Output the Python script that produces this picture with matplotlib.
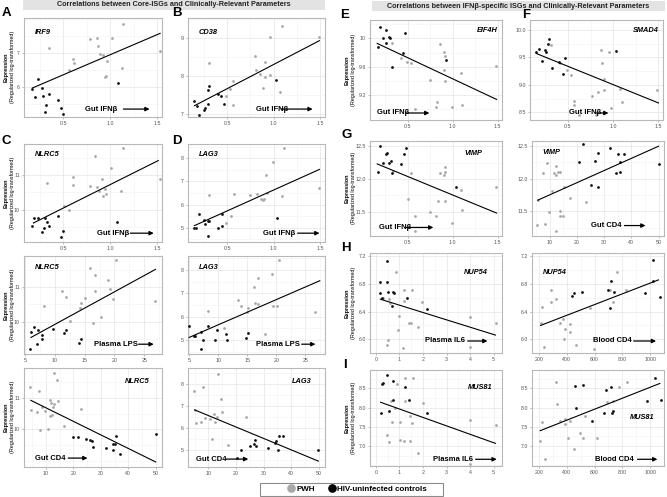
import matplotlib
matplotlib.use("Agg")
import numpy as np
import matplotlib.pyplot as plt
from matplotlib.lines import Line2D
from matplotlib.patches import Rectangle
from matplotlib.ticker import AutoMinorLocator

plt.rcParams['font.family'] = ['Liberation Sans', 'DejaVu Sans']

# ---------------- data ----------------
# A: IRF9 vs Gut IFNb
irf9_ifn_xg = [1.13, 1.53, 0.78, 0.86, 0.87, 0.89, 0.92, 0.96, 1.02, 0.35, 0.60, 0.61, 0.56, 0.94, 0.95, 1.12]
irf9_ifn_yg = [7.83, 7.05, 7.40, 7.42, 7.20, 6.98, 6.93, 6.77, 7.42, 7.13, 6.83, 6.69, 6.49, 6.29, 6.31, 6.56]
irf9_ifn_xb = [0.17, 0.20, 0.23, 0.27, 0.28, 0.31, 0.30, 0.35, 0.44, 0.47, 0.50, 1.08]
irf9_ifn_yb = [5.95, 5.71, 6.23, 5.97, 5.73, 5.46, 5.28, 5.78, 5.61, 5.38, 5.22, 6.12]
irf9_ifn_fit = ([0.17, 1.53], [5.97, 7.57])

# B: CD38 vs Gut IFNb
cd38_ifn_xg = [1.09, 1.49, 0.96, 0.80, 0.81, 0.85, 0.91, 0.96, 0.91, 0.89, 1.07, 0.31, 0.56, 0.53, 0.49, 0.56]
cd38_ifn_yg = [9.33, 9.04, 9.02, 8.52, 8.15, 8.06, 7.97, 8.03, 8.37, 7.68, 7.56, 8.34, 7.86, 7.65, 7.46, 7.23]
cd38_ifn_xb = [0.14, 0.18, 0.20, 0.25, 0.26, 0.29, 0.29, 0.31, 0.40, 0.43, 0.47, 1.02]
cd38_ifn_yb = [7.33, 7.21, 6.97, 7.09, 7.14, 7.25, 7.63, 7.74, 7.51, 7.46, 7.25, 7.88]
cd38_ifn_fit = ([0.15, 1.49], [7.21, 8.93])

# C: NLRC5 vs Gut IFNb
nlrc5_ifn_xg = [1.13, 0.84, 1.01, 0.33, 0.60, 0.60, 0.78, 0.86, 0.91, 0.88, 0.94, 0.92, 0.95, 1.11, 0.51, 0.56, 1.53]
nlrc5_ifn_yg = [11.78, 11.55, 11.21, 10.78, 10.93, 10.70, 10.68, 10.66, 10.88, 10.54, 10.59, 10.39, 10.45, 10.54, 10.10, 10.00, 10.89]
nlrc5_ifn_xb = [0.17, 0.19, 0.23, 0.30, 0.32, 0.29, 0.27, 0.35, 0.44, 0.50, 0.47, 1.07]
nlrc5_ifn_yb = [9.51, 9.75, 9.77, 9.75, 9.64, 9.46, 9.34, 9.51, 9.82, 9.37, 9.20, 9.63]
nlrc5_ifn_fit = ([0.18, 1.51], [9.61, 11.42])

# D: LAG3 vs Gut IFNb
lag3_ifn_xg = [1.11, 0.99, 0.92, 0.31, 0.57, 0.75, 0.93, 0.82, 0.86, 0.88, 0.90, 1.09, 1.49, 0.54, 0.49]
lag3_ifn_yg = [8.46, 7.86, 7.30, 6.41, 6.46, 6.41, 6.48, 6.46, 6.25, 6.18, 6.22, 6.38, 6.72, 5.51, 5.20]
lag3_ifn_xb = [0.14, 0.17, 0.20, 0.25, 0.26, 0.29, 0.31, 0.29, 0.40, 0.44, 0.45, 1.04]
lag3_ifn_yb = [4.99, 4.99, 5.61, 5.35, 5.17, 5.29, 5.29, 4.62, 5.00, 5.61, 5.06, 5.42]
lag3_ifn_fit = ([0.15, 1.49], [5.09, 7.52])

# NLRC5 vs Plasma LPS
nlrc5_lps_xg = [20.2, 15.85, 16.7, 11.2, 11.8, 16.8, 19.0, 19.2, 19.8, 15.0, 14.4, 14.2, 12.5, 16.4, 17.8, 26.9, 8.2]
nlrc5_lps_yg = [11.80, 11.55, 11.36, 10.90, 10.71, 10.90, 11.21, 10.94, 10.66, 10.68, 10.55, 10.39, 10.03, 9.97, 10.13, 10.60, 10.46]
nlrc5_lps_xb = [5.85, 5.96, 6.41, 7.2, 9.6, 7.9, 7.8, 7.0, 11.8, 11.6, 14.4, 14.0]
nlrc5_lps_yb = [9.20, 9.71, 9.84, 9.76, 9.78, 9.51, 9.60, 9.36, 9.76, 9.66, 9.51, 9.39]
nlrc5_lps_fit = ([5.96, 26.9], [9.54, 11.52])

# LAG3 vs Plasma LPS
lag3_lps_xg = [20.4, 19.3, 16.8, 16.1, 13.4, 13.9, 14.9, 15.2, 16.4, 16.9, 19.5, 20.1, 26.7, 8.2, 11.0, 18.1]
lag3_lps_yg = [8.43, 7.83, 7.66, 7.29, 6.73, 6.44, 6.19, 6.39, 6.60, 6.53, 6.47, 6.47, 6.20, 6.24, 5.53, 5.24]
lag3_lps_xb = [5.0, 5.75, 6.0, 7.0, 7.4, 7.1, 8.3, 9.5, 9.8, 11.4, 11.6, 14.8, 15.1]
lag3_lps_yb = [5.61, 5.17, 5.19, 5.36, 5.00, 4.63, 5.60, 5.00, 5.43, 5.26, 5.00, 5.09, 5.31]
lag3_lps_fit = ([5.0, 27.5], [5.11, 7.54])

# NLRC5 vs Gut CD4
nlrc5_cd4_xg = [12.8, 4.2, 13.9, 7.5, 4.7, 6.7, 8.5, 11.6, 11.8, 13.1, 12.7, 14.5, 9.75, 11.5, 12.1, 7.9, 10.6, 16.7, 22.9]
nlrc5_cd4_yg = [11.78, 11.35, 11.56, 11.22, 10.60, 10.55, 10.70, 10.92, 10.84, 10.81, 10.70, 10.91, 10.57, 10.43, 10.46, 9.98, 10.01, 10.12, 10.66]
nlrc5_cd4_xb = [19.8, 21.7, 24.7, 26.2, 26.8, 27.2, 31.8, 34.3, 34.5, 35.3, 35.5, 37.0, 50.0]
nlrc5_cd4_yb = [9.74, 9.76, 9.69, 9.66, 9.63, 9.44, 9.39, 9.53, 9.35, 9.53, 9.78, 9.20, 9.85]
nlrc5_cd4_fit = ([4.5, 50.0], [10.92, 8.96])

# LAG3 vs Gut CD4
lag3_cd4_xg = [13.6, 4.8, 8.2, 14.5, 15.1, 5.2, 5.5, 7.4, 8.8, 10.4, 12.1, 12.5, 13.1, 11.3, 17.1, 23.5]
lag3_cd4_yg = [8.45, 7.67, 7.85, 7.32, 6.71, 6.82, 6.21, 6.26, 6.44, 6.41, 6.64, 6.26, 6.48, 5.50, 5.23, 6.48]
lag3_cd4_xb = [21.7, 20.2, 25.0, 26.4, 26.9, 27.4, 31.8, 34.2, 34.5, 35.6, 37.1, 35.4, 49.8]
lag3_cd4_yb = [4.97, 4.59, 5.15, 5.24, 5.42, 5.15, 5.08, 5.30, 5.38, 5.61, 5.61, 5.00, 5.00]
lag3_cd4_fit = ([5.0, 49.9], [6.82, 4.47])

# E: EIF4H vs Gut IFNb
eif4h_ifn_xg = [0.32, 0.42, 0.49, 0.54, 0.86, 0.90, 0.92, 0.90, 0.91, 0.75, 1.09, 1.48, 0.83, 0.82, 0.99, 1.10, 0.58]
eif4h_ifn_yg = [9.94, 9.73, 9.67, 9.65, 9.92, 9.81, 9.75, 9.56, 9.40, 9.42, 9.51, 9.61, 9.11, 9.03, 9.04, 9.06, 9.01]
eif4h_ifn_xb = [0.17, 0.19, 0.22, 0.26, 0.26, 0.29, 0.30, 0.47, 0.45, 0.33, 0.93]
eif4h_ifn_yb = [9.88, 10.16, 10.00, 9.94, 10.12, 10.02, 10.01, 10.08, 9.80, 9.60, 9.69]
eif4h_ifn_fit = ([0.16, 1.49], [9.93, 9.14])

# F: SMAD4 vs Gut IFNb
smad4_ifn_xg = [0.31, 0.41, 0.49, 0.53, 0.57, 0.57, 0.62, 0.76, 0.81, 0.83, 0.88, 0.87, 0.95, 0.90, 0.90, 0.97, 1.08, 1.10, 1.48]
smad4_ifn_yg = [9.72, 9.40, 9.27, 9.17, 8.70, 8.64, 8.46, 8.80, 8.45, 8.87, 9.39, 9.63, 9.59, 9.10, 8.90, 8.57, 8.93, 8.69, 8.90]
smad4_ifn_xb = [0.15, 0.18, 0.21, 0.25, 0.26, 0.28, 0.29, 0.32, 0.40, 0.44, 0.47, 1.03]
smad4_ifn_yb = [9.59, 9.65, 9.43, 9.64, 9.60, 9.75, 9.83, 9.31, 9.41, 9.20, 9.49, 9.61]
smad4_ifn_fit = ([0.15, 1.50], [9.57, 8.67])

# G: VIMP vs Gut IFNb
vimp_ifn_xg = [0.34, 0.54, 0.50, 0.58, 0.58, 0.75, 0.82, 0.84, 0.86, 0.90, 0.91, 0.92, 0.92, 0.99, 1.09, 1.10, 1.48]
vimp_ifn_yg = [12.12, 12.09, 11.70, 11.43, 11.20, 11.50, 11.43, 11.66, 12.09, 12.06, 12.18, 12.10, 11.67, 11.33, 11.83, 11.52, 11.88]
vimp_ifn_xb = [0.17, 0.19, 0.22, 0.26, 0.27, 0.29, 0.31, 0.33, 0.43, 0.46, 0.48, 1.04]
vimp_ifn_yb = [12.11, 12.51, 12.24, 12.38, 12.39, 12.25, 12.27, 12.09, 12.23, 12.38, 12.48, 11.88]
vimp_ifn_fit = ([0.16, 1.49], [12.23, 11.48])

# G: VIMP vs Gut CD4
vimp_cd4_xg = [5.35, 5.6, 7.55, 8.4, 9.0, 9.6, 10.9, 11.5, 12.45, 12.45, 12.45, 13.1, 13.9, 13.7, 13.7, 14.9, 15.1, 17.3, 23.5]
vimp_cd4_yg = [11.29, 11.67, 12.09, 11.31, 12.24, 11.49, 11.81, 12.09, 12.19, 12.06, 11.19, 12.11, 12.11, 11.51, 11.43, 11.43, 11.88, 11.70, 11.65]
vimp_cd4_xb = [22.2, 20.6, 25.2, 26.8, 27.6, 27.6, 32.3, 35.0, 35.9, 34.5, 35.7, 37.4, 50.0]
vimp_cd4_yb = [12.53, 12.26, 11.91, 12.28, 12.39, 11.88, 12.48, 12.38, 12.25, 12.09, 12.10, 12.38, 12.23]
vimp_cd4_fit = ([5.6, 50.0], [11.67, 12.50])

# H: NUP54 vs Plasma IL6
nup54_il6_xg = [0.32, 0.45, 0.53, 0.56, 0.58, 0.86, 0.98, 0.95, 1.15, 1.18, 1.19, 1.42, 1.49, 1.55, 1.78, 1.95, 4.0, 4.0, 5.1]
nup54_il6_yg = [6.60, 5.92, 5.99, 6.58, 6.53, 6.97, 6.34, 6.13, 5.87, 6.56, 6.71, 6.23, 6.23, 6.71, 6.17, 6.54, 6.32, 5.88, 6.24]
nup54_il6_xb = [0.16, 0.19, 0.27, 0.45, 0.46, 0.51, 0.69, 0.72, 0.78, 1.33, 2.15]
nup54_il6_yb = [6.83, 6.67, 6.60, 7.14, 6.83, 6.69, 6.48, 6.68, 6.67, 6.60, 6.44]
nup54_il6_fit = ([0.19, 5.07], [6.58, 6.06])

# H: NUP54 vs Blood CD4
nup54_bcd4_xg = [212, 224, 236, 290, 290, 321, 350, 370, 377, 387, 423, 423, 467, 564, 595, 714, 733, 762, 830]
nup54_bcd4_yg = [6.24, 6.46, 5.88, 6.71, 6.54, 6.58, 6.24, 6.29, 6.00, 6.15, 6.11, 6.22, 5.92, 6.45, 5.86, 6.72, 6.54, 6.98, 6.72]
nup54_bcd4_xb = [1024, 1024, 1068, 964, 720, 696, 739, 713, 510, 438, 455]
nup54_bcd4_yb = [7.15, 6.84, 6.61, 6.67, 6.84, 6.71, 6.69, 6.45, 6.68, 6.62, 6.67]
nup54_bcd4_fit = ([212, 1060], [6.20, 6.86])

# I: MUS81 vs Plasma IL6
mus81_il6_xg = [0.46, 0.54, 0.63, 0.67, 0.83, 0.90, 1.03, 1.01, 1.20, 1.23, 1.23, 1.43, 1.46, 1.53, 1.56, 1.80, 1.98, 4.0, 3.98, 5.09]
mus81_il6_yg = [7.29, 7.11, 8.18, 7.63, 8.00, 8.61, 7.63, 7.16, 7.14, 8.76, 8.18, 7.78, 7.13, 7.59, 8.76, 6.83, 8.11, 7.69, 6.53, 7.56]
mus81_il6_xb = [0.20, 0.24, 0.30, 0.48, 0.54, 0.74, 0.73, 1.23, 1.39, 2.18]
mus81_il6_yb = [7.85, 8.61, 8.63, 8.85, 7.92, 8.69, 8.20, 8.54, 8.21, 7.85]
mus81_il6_fit = ([0.20, 5.07], [8.14, 7.07])

# I: MUS81 vs Blood CD4
mus81_bcd4_xg = [205, 223, 240, 326, 329, 350, 387, 387, 411, 427, 450, 497, 520, 528, 621, 691, 736, 778, 832]
mus81_bcd4_yg = [7.14, 7.62, 6.67, 8.68, 8.09, 7.65, 7.71, 7.58, 7.20, 7.66, 6.92, 7.34, 7.22, 7.79, 7.21, 8.15, 8.17, 8.55, 8.68]
mus81_bcd4_xb = [457, 520, 469, 584, 668, 685, 715, 724, 731, 977, 1035, 1075]
mus81_bcd4_yb = [8.56, 8.60, 7.99, 7.64, 7.85, 8.47, 8.55, 7.85, 7.92, 8.17, 8.76, 8.21]
mus81_bcd4_fit = ([209, 1070], [7.40, 8.63])

# axis ticks
ifn_ticks = [0.5, 1.0, 1.5]
lps_ticks = [5, 10, 15, 20, 25]
gcd4_ticks = [10, 20, 30, 40, 50]
il6_ticks = [0, 1, 2, 3, 4, 5]
bcd4_ticks = [200, 400, 600, 800, 1000]

GREY = '#a8a8a8'
BLACK = '#111111'
W, H = 667, 497

fig = plt.figure(figsize=(W / 100, H / 100), dpi=100)


def box(x0, y0, x1, y1):
    return [x0 / W, 1 - y1 / H, (x1 - x0) / W, (y1 - y0) / H]


def panel(px, xg, yg, xb, yb, fit, xlim, ylim, xt, yt, ytl, gene, gpos, xlab, lpos, arr):
    ax = fig.add_axes(box(*px))
    ax.scatter(xg, yg, s=4, color=GREY, lw=0, zorder=3)
    ax.scatter(xb, yb, s=4, color=BLACK, lw=0, zorder=3)
    ax.plot(fit[0], fit[1], color='black', lw=0.8, zorder=4)
    ax.set_xlim(*xlim)
    ax.set_ylim(*ylim)
    ax.set_xticks(xt)
    ax.set_xticklabels([('%.1f' % v) if isinstance(v, float) else str(v) for v in xt])
    ax.set_yticks(yt)
    ax.set_yticklabels(ytl)
    ax.xaxis.set_minor_locator(AutoMinorLocator(2))
    ax.yaxis.set_minor_locator(AutoMinorLocator(2))
    ax.grid(True, which='major', color='#e4e4e4', lw=0.5, zorder=0)
    ax.grid(True, which='minor', color='#f2f2f2', lw=0.4, zorder=0)
    ax.tick_params(which='major', length=1.5, width=0.4, color='#888888', labelsize=3.8,
                   labelcolor='#555555', pad=1.5)
    ax.tick_params(which='minor', length=0)
    for s in ax.spines.values():
        s.set_color('#b8b8b8')
        s.set_linewidth(0.8)
    ha = 'left' if gpos[2] == 'l' else 'right'
    ax.text(gpos[0], gpos[1], gene, transform=ax.transAxes, ha=ha, va='center',
            fontsize=5.3, fontweight='bold', style='italic')
    ax.text(lpos[0], lpos[1], xlab, transform=ax.transAxes, ha='left', va='center',
            fontsize=5.5, fontweight='bold')
    ax.annotate('', xy=(arr[1], lpos[1]), xytext=(arr[0], lpos[1]), xycoords='axes fraction',
                arrowprops=dict(arrowstyle='-|>', color='black', lw=0.9, mutation_scale=6,
                                shrinkA=0, shrinkB=0))
    return ax


ifn_xlim = (0.08, 1.55)

# left block
panel((24, 18, 162, 117), irf9_ifn_xg, irf9_ifn_yg, irf9_ifn_xb, irf9_ifn_yb, irf9_ifn_fit,
      ifn_xlim, (5.12, 8.02), ifn_ticks, [6, 7], ['6', '7'], 'IRF9', (0.08, 0.85, 'l'),
      'Gut IFNβ', (0.44, 0.08), (0.72, 0.91))
panel((188, 18, 325, 117), cd38_ifn_xg, cd38_ifn_yg, cd38_ifn_xb, cd38_ifn_yb, cd38_ifn_fit,
      ifn_xlim, (6.91, 9.53), ifn_ticks, [7, 8, 9], ['7', '8', '9'], 'CD38', (0.08, 0.85, 'l'),
      'Gut IFNβ', (0.50, 0.08), (0.68, 0.91))
panel((24, 144, 162, 242), nlrc5_ifn_xg, nlrc5_ifn_yg, nlrc5_ifn_xb, nlrc5_ifn_yb, nlrc5_ifn_fit,
      ifn_xlim, (9.06, 11.9), ifn_ticks, [10, 11], ['10', '11'], 'NLRC5', (0.08, 0.89, 'l'),
      'Gut IFNβ', (0.53, 0.09), (0.77, 0.94))
panel((188, 144, 325, 242), lag3_ifn_xg, lag3_ifn_yg, lag3_ifn_xb, lag3_ifn_yb, lag3_ifn_fit,
      ifn_xlim, (4.38, 8.62), ifn_ticks, [5, 6, 7, 8], ['5', '6', '7', '8'], 'LAG3', (0.08, 0.89, 'l'),
      'Gut IFNβ', (0.55, 0.09), (0.80, 0.96))
panel((24, 256, 162, 354), nlrc5_lps_xg, nlrc5_lps_yg, nlrc5_lps_xb, nlrc5_lps_yb, nlrc5_lps_fit,
      (4.8, 28.0), (9.06, 11.91), lps_ticks, [10, 11], ['10', '11'], 'NLRC5', (0.08, 0.88, 'l'),
      'Plasma LPS', (0.51, 0.10), (0.83, 0.94))
panel((188, 256, 325, 354), lag3_lps_xg, lag3_lps_yg, lag3_lps_xb, lag3_lps_yb, lag3_lps_fit,
      (4.8, 28.4), (4.4, 8.6), lps_ticks, [5, 6, 7, 8], ['5', '6', '7', '8'], 'LAG3', (0.08, 0.88, 'l'),
      'Plasma LPS', (0.50, 0.10), (0.83, 0.93))
panel((24, 368, 162, 467), nlrc5_cd4_xg, nlrc5_cd4_yg, nlrc5_cd4_xb, nlrc5_cd4_yb, nlrc5_cd4_fit,
      (2.0, 52.3), (8.8, 11.95), gcd4_ticks, [10, 11], ['10', '11'], 'NLRC5', (0.91, 0.86, 'r'),
      'Gut CD4', (0.08, 0.09), (0.32, 0.46))
panel((188, 368, 325, 467), lag3_cd4_xg, lag3_cd4_yg, lag3_cd4_xb, lag3_cd4_yb, lag3_cd4_fit,
      (2.6, 52.3), (4.2, 8.74), gcd4_ticks, [5, 6, 7, 8], ['5', '6', '7', '8'], 'LAG3', (0.90, 0.86, 'r'),
      'Gut CD4', (0.06, 0.08), (0.28, 0.44))

# right block
panel((370, 20, 502, 120), eif4h_ifn_xg, eif4h_ifn_yg, eif4h_ifn_xb, eif4h_ifn_yb, eif4h_ifn_fit,
      ifn_xlim, (8.85, 10.26), ifn_ticks, [9.2, 9.6, 10.0], ['9.2', '9.6', '10'], 'EIF4H', (0.97, 0.90, 'r'),
      'Gut IFNβ', (0.05, 0.07), (0.27, 0.45))
panel((530, 20, 663, 120), smad4_ifn_xg, smad4_ifn_yg, smad4_ifn_xb, smad4_ifn_yb, smad4_ifn_fit,
      ifn_xlim, (8.36, 10.18), ifn_ticks, [8.5, 9.0, 9.5, 10.0], ['8.5', '9.0', '9.5', '10.0'], 'SMAD4',
      (0.97, 0.90, 'r'), 'Gut IFNβ', (0.29, 0.07), (0.50, 0.59))
panel((370, 141, 502, 236), vimp_ifn_xg, vimp_ifn_yg, vimp_ifn_xb, vimp_ifn_yb, vimp_ifn_fit,
      ifn_xlim, (11.13, 12.58), ifn_ticks, [11.5, 12.0, 12.5], ['11.5', '12.0', '12.5'], 'VIMP',
      (0.85, 0.87, 'r'), 'Gut IFNβ', (0.07, 0.09), (0.27, 0.48))
panel((532, 141, 664, 236), vimp_cd4_xg, vimp_cd4_yg, vimp_cd4_xb, vimp_cd4_yb, vimp_cd4_fit,
      (3.5, 52.0), (11.12, 12.58), gcd4_ticks, [11.5, 12.0, 12.5], ['11.5', '12.0', '12.5'], 'VIMP',
      (0.08, 0.88, 'l'), 'Gut CD4', (0.45, 0.11), (0.70, 0.86))
panel((370, 253, 502, 353), nup54_il6_xg, nup54_il6_yg, nup54_il6_xb, nup54_il6_yb, nup54_il6_fit,
      (-0.25, 5.35), (5.8, 7.25), il6_ticks, [6.0, 6.4, 6.8, 7.2], ['6.0', '6.4', '6.8', '7.2'], 'NUP54',
      (0.89, 0.80, 'r'), 'Plasma IL6', (0.42, 0.12), (0.74, 0.89))
panel((532, 253, 664, 353), nup54_bcd4_xg, nup54_bcd4_yg, nup54_bcd4_xb, nup54_bcd4_yb, nup54_bcd4_fit,
      (150, 1100), (5.8, 7.25), bcd4_ticks, [6.0, 6.4, 6.8, 7.2], ['6.0', '6.4', '6.8', '7.2'], 'NUP54',
      (0.08, 0.80, 'l'), 'Blood CD4', (0.46, 0.12), (0.77, 0.94))
panel((370, 370, 502, 466), mus81_il6_xg, mus81_il6_yg, mus81_il6_xb, mus81_il6_yb, mus81_il6_fit,
      (-0.25, 5.35), (6.48, 8.98), il6_ticks, [7.0, 7.5, 8.0, 8.5], ['7.0', '7.5', '8.0', '8.5'], 'MUS81',
      (0.93, 0.82, 'r'), 'Plasma IL6', (0.48, 0.07), (0.80, 0.96))
panel((532, 370, 664, 466), mus81_bcd4_xg, mus81_bcd4_yg, mus81_bcd4_xb, mus81_bcd4_yb, mus81_bcd4_fit,
      (150, 1100), (6.48, 8.98), bcd4_ticks, [7.0, 7.5, 8.0, 8.5], ['7.0', '7.5', '8.0', '8.5'], 'MUS81',
      (0.93, 0.51, 'r'), 'Blood CD4', (0.48, 0.07), (0.80, 0.95))

# headers
for (x0, x1, y0, y1, txt) in [(23, 325, 0, 10, 'Correlations between Core-ISGs and Clinically-Relevant Parameters'),
                               (372, 665, 1, 11, 'Correlations between IFNβ-specific ISGs and Clinically-Relevant Parameters')]:
    fig.patches.append(Rectangle((x0 / W, 1 - y1 / H), (x1 - x0) / W, (y1 - y0) / H,
                                 transform=fig.transFigure, facecolor='#e3e3e3', edgecolor='none'))
    fig.text((x0 + x1) / 2 / W, 1 - (y0 + y1) / 2 / H, txt, ha='center', va='center',
             fontsize=5.2, fontweight='bold', color='#222222')

# panel letters
for (x, y, t) in [(2, 13, 'A'), (172, 13, 'B'), (2, 141, 'C'), (172, 141, 'D'),
                  (340, 15, 'E'), (522, 15, 'F'), (341, 135, 'G'), (341, 248, 'H'), (343, 365, 'I')]:
    fig.text(x / W, 1 - y / H, t, fontsize=9.5, fontweight='bold', va='center', ha='left')

# y-axis titles
for (x, yc) in [(9, 67), (9, 193), (9, 305), (9, 417), (350, 70), (350, 188), (350, 303), (350, 418)]:
    fig.text((x - 3.3) / W, 1 - yc / H, 'Expression', rotation=90, ha='center', va='center',
             fontsize=4.0, fontweight='bold')
    fig.text((x + 3.3) / W, 1 - yc / H, '(Regularized log-transformed)', rotation=90, ha='center',
             va='center', fontsize=3.9)

# legend (frame drawn separately so its padding matches the reference)
fig.patches.append(Rectangle((260 / W, 1 - 496 / H), 183 / W, 13 / H, transform=fig.transFigure,
                             facecolor='white', edgecolor='#8c8c8c', lw=0.8))
handles = [Line2D([], [], marker='o', ls='', color=GREY, markersize=5.2),
           Line2D([], [], marker='o', ls='', color='black', markersize=5.2)]
fig.legend(handles, ['PWH', 'HIV-uninfected controls'], loc='center', ncol=2,
           bbox_to_anchor=(357 / W, 1 - 489.5 / H), frameon=False,
           prop={'size': 5.8, 'weight': 'bold'}, handletextpad=0.2,
           columnspacing=1.6, borderpad=0.2, handlelength=1.0)

fig.savefig('out.png', dpi=100)
